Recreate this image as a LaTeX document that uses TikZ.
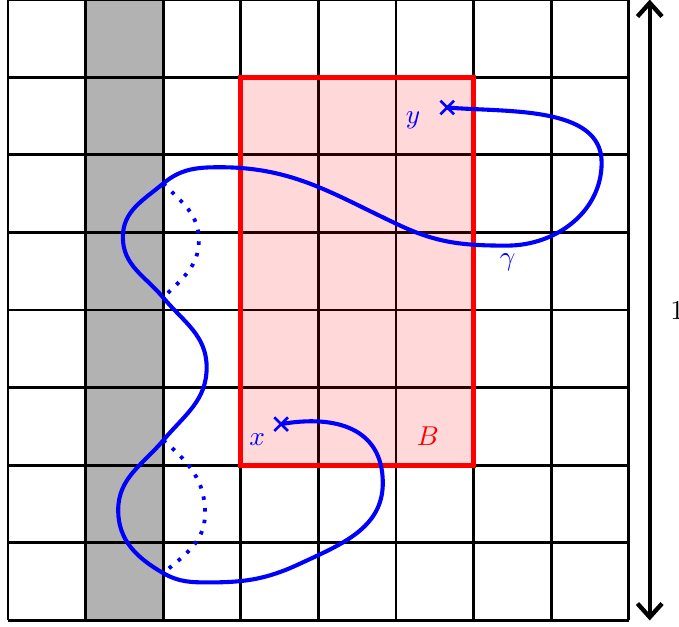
\documentclass[tikz,border=0pt]{standalone}
\usepackage{tikz}
\usetikzlibrary{arrows.meta,shapes.misc}

\begin{document}
\begin{tikzpicture}[>={Straight Barb[length=5pt,width=9pt]}]
  \tikzset{
    endpt/.style={cross out,draw=blue,line width=1pt,minimum size=4pt,inner sep=0pt},
    gam/.style={blue,line width=1.5pt},
    gamdots/.style={blue,line width=1.4pt,dash pattern=on 1.3pt off 3pt}
  }
  \useasboundingbox (-0.103,-0.075) rectangle (8.647,7.995);

  % column and box
  \fill[gray!60] (1,0) rectangle (2,8);
  \draw[line width=1pt] (0,0) grid (8,8);
  \fill[red,fill opacity=0.15] (3,2) rectangle (6,7);
  \draw[red,line width=1.8pt] (3,2) rectangle (6,7);
  \node[red] (lblB) at (5.41,2.38) {$B$};

  % end points
  \node[endpt] (x) at (3.52,2.53) {};
  \node[endpt] (y) at (5.66,6.61) {};
  \node[blue] (lblx) at (3.21,2.33) {$x$};
  \node[blue] (lbly) at (5.22,6.44) {$y$};

  \coordinate (c1) at (2,0.61);
  \coordinate (c2) at (2,2.32);
  \coordinate (c3) at (2,4.16);
  \coordinate (c4) at (2,5.63);

  % the path
  \draw[gam] (x.center) to[out=10,in=90,looseness=1.2] (4.83,1.77)
    to[out=-90,in=25] (3.76,0.73) to[out=-155,in=0] (2.60,0.49)
    to[out=180,in=-30] (c1) to[out=150,in=-90] (1.42,1.42)
    to[out=90,in=-130] (c2) to[out=50,in=-90] (2.56,3.26)
    to[out=90,in=-50] (c3) to[out=130,in=-90] (1.48,4.94)
    to[out=90,in=-140] (c4) to[out=40,in=180] (2.73,5.84)
    to[out=0,in=155] (5.05,5.09) to[out=-25,in=180] (6.43,4.83)
    to[out=0,in=-90] (7.65,5.90)
    to[out=90,in=-5,looseness=0.9] (y.center);
  \node[blue] (lblg) at (6.44,4.61) {$\gamma$};

  % detours
  \draw[gamdots] (c4) to[out=-45,in=90] (2.46,4.90) to[out=-90,in=45] (c3);
  \draw[gamdots] (c2) to[out=-40,in=90] (2.54,1.38) to[out=-90,in=40] (c1);

  % side length
  \coordinate (top) at (8.27,8);
  \coordinate (bot) at (8.27,0);
  \draw[<->,line width=1.6pt] (bot) -- node[right=0.12cm] (len) {1} (top);
\end{tikzpicture}
\end{document}
